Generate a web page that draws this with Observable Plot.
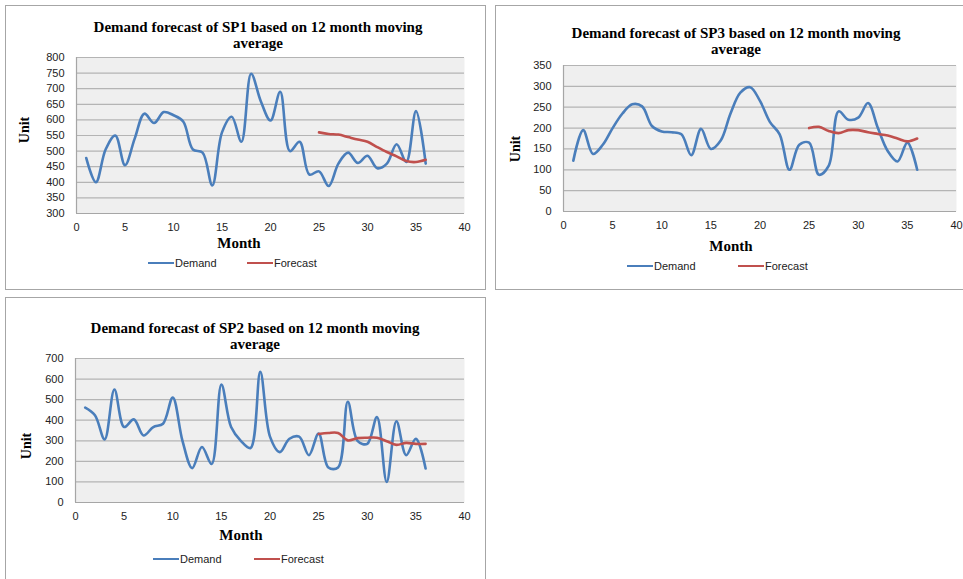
<!DOCTYPE html>
<html>
<head>
<meta charset="utf-8">
<script src="https://cdn.jsdelivr.net/npm/d3@7"></script>
<script src="https://cdn.jsdelivr.net/npm/@observablehq/plot@0.6"></script>
<style>
  html, body { margin: 0; padding: 0; background: #fff; }
  #page { position: relative; width: 963px; height: 579px; overflow: hidden; }
  .panel { position: absolute; border: 1.5px solid #a6a6a6; box-sizing: border-box; background: #fff; }
  .txt { position: absolute; transform: translate(-50%, -50%); white-space: nowrap; color: #000; }
  .title { font: bold 15px "Liberation Serif", "Times New Roman", serif; text-align: center; line-height: 16px; }
  .axis-title { font: bold 15px "Liberation Serif", "Times New Roman", serif; }
  .unit { font: bold 14px "Liberation Serif", "Times New Roman", serif; transform: translate(-50%, -50%) rotate(-90deg); }
  .chart { position: absolute; }
  .leg-line { position: absolute; height: 2.5px; }
  .leg-text { position: absolute; font: 11px "Liberation Sans", Arial, sans-serif; color: #222; transform: translateY(-50%); }
</style>
</head>
<body>
<div id="page"></div>
<script>
// Month numbers shared by all three products
const months = d3.range(1, 37);
const forecastMonths = d3.range(25, 37);
const xTicks = [0, 5, 10, 15, 20, 25, 30, 35, 40];

// SP1 monthly demand and 12-month moving-average forecast
const sp1Demand = [478, 400, 505, 550, 455, 540, 620, 590, 625, 615, 595, 505,
                   495, 390, 560, 610, 530, 748, 660, 598, 690, 500, 530, 425,
                   435, 388, 460, 495, 462, 485, 445, 460, 522, 465, 628, 460];
const sp1Forecast = [560, 555, 553, 545, 537, 530, 513, 497, 483, 468, 465, 472];
const sp1YTicks = [300, 350, 400, 450, 500, 550, 600, 650, 700, 750, 800];

// SP3 monthly demand and forecast
const sp3Demand = [122, 195, 138, 160, 200, 235, 257, 252, 205, 192, 190, 185,
                   135, 198, 150, 170, 235, 285, 298, 265, 215, 185, 100, 160,
                   165, 88, 110, 240, 220, 225, 260, 200, 145, 120, 165, 100];
const sp3Forecast = [200, 203, 193, 188, 195, 195, 190, 186, 182, 175, 168, 175];
const sp3YTicks = [0, 50, 100, 150, 200, 250, 300, 350];

// SP2 monthly demand and forecast
const sp2Demand = [461, 424, 307, 549, 367, 404, 326, 367, 383, 510, 300, 167,
                   270, 187, 573, 367, 300, 265, 635, 320, 245, 310, 320, 230,
                   335, 170, 170, 490, 300, 285, 415, 100, 395, 230, 310, 165];
const sp2Forecast = [333, 338, 338, 302, 313, 315, 315, 298, 280, 290, 285, 285];
const sp2YTicks = [0, 100, 200, 300, 400, 500, 600, 700];

const demandColor = "#4a7ebb";
const forecastColor = "#c0504d";

const page = document.getElementById("page");

function addText(cls, text, x, y) {
  const d = document.createElement("div");
  d.className = "txt " + cls;
  d.innerHTML = text;
  d.style.left = x + "px";
  d.style.top = y + "px";
  page.appendChild(d);
}

function addLegend(y, demandX, forecastX) {
  [[demandX, demandColor, "Demand"], [forecastX, forecastColor, "Forecast"]].forEach(([x, color, label]) => {
    const l = document.createElement("div");
    l.className = "leg-line";
    l.style.left = x + "px";
    l.style.top = (y - 1.25) + "px";
    l.style.width = "26px";
    l.style.background = color;
    page.appendChild(l);
    const t = document.createElement("div");
    t.className = "leg-text";
    t.textContent = label;
    t.style.left = (x + 27) + "px";
    t.style.top = y + "px";
    page.appendChild(t);
  });
}

function drawPanel(cfg) {
  const box = document.createElement("div");
  box.className = "panel";
  Object.assign(box.style, {
    left: cfg.box[0] + "px", top: cfg.box[1] + "px",
    width: cfg.box[2] + "px", height: cfg.box[3] + "px"
  });
  page.appendChild(box);

  const mL = 50, mR = 10, mT = 10, mB = 24;
  const [pl, pt, pr, pb] = cfg.plot;
  const yDomain = [cfg.yTicks[0], cfg.yTicks[cfg.yTicks.length - 1]];
  const demand = months.map((m, i) => ({month: m, value: cfg.demand[i]}));
  const forecast = forecastMonths.map((m, i) => ({month: m, value: cfg.forecast[i]}));

  const svg = Plot.plot({
    width: pr - pl + mL + mR,
    height: pb - pt + mT + mB,
    marginLeft: mL, marginRight: mR, marginTop: mT, marginBottom: mB,
    style: {fontFamily: "'Liberation Sans', Arial, sans-serif", fontSize: "11px", color: "#222", background: "transparent", overflow: "visible"},
    x: {domain: [0, 40], ticks: xTicks, tickSize: 0, tickPadding: 10, label: null},
    y: {domain: yDomain, ticks: cfg.yTicks, tickSize: 0, tickPadding: 12, label: null},
    marks: [
      Plot.frame({fill: "#efefef", stroke: null}),
      Plot.gridY(cfg.yTicks, {stroke: "#b4b4b4", strokeOpacity: 1, strokeWidth: 1.2}),
      Plot.ruleX([0], {stroke: "#a6a6a6", strokeWidth: 1.2}),
      Plot.ruleY([yDomain[0]], {stroke: "#a6a6a6", strokeWidth: 1.2}),
      Plot.line(demand, {x: "month", y: "value", curve: "catmull-rom", stroke: demandColor, strokeWidth: 2.6}),
      Plot.line(forecast, {x: "month", y: "value", curve: "catmull-rom", stroke: forecastColor, strokeWidth: 2.6})
    ]
  });
  svg.classList.add("chart");
  svg.style.left = (pl - mL) + "px";
  svg.style.top = (pt - mT) + "px";
  page.appendChild(svg);

  addText("title", cfg.title + "<br>average", cfg.titleX, cfg.titleY);
  addText("axis-title", "Month", cfg.monthX, cfg.monthY);
  addText("unit", "Unit", cfg.unitX, cfg.unitY);
  addLegend(cfg.legendY, cfg.legendX[0], cfg.legendX[1]);
}

drawPanel({
  box: [5, 5, 481, 285],
  plot: [76, 57, 464, 213],
  yTicks: sp1YTicks, demand: sp1Demand, forecast: sp1Forecast,
  title: "Demand forecast of SP1 based on 12 month moving",
  titleX: 258, titleY: 35,
  monthX: 239, monthY: 243,
  unitX: 25, unitY: 130,
  legendY: 263, legendX: [148, 247]
});

drawPanel({
  box: [495, 5, 470, 285],
  plot: [563, 65, 956, 211],
  yTicks: sp3YTicks, demand: sp3Demand, forecast: sp3Forecast,
  title: "Demand forecast of SP3 based on 12 month moving",
  titleX: 736, titleY: 41,
  monthX: 731, monthY: 246,
  unitX: 516, unitY: 149,
  legendY: 266, legendX: [627, 738]
});

drawPanel({
  box: [5, 297, 481, 300],
  plot: [75, 358, 464, 502],
  yTicks: sp2YTicks, demand: sp2Demand, forecast: sp2Forecast,
  title: "Demand forecast of SP2 based on 12 month moving",
  titleX: 255, titleY: 336,
  monthX: 241, monthY: 535,
  unitX: 27, unitY: 446,
  legendY: 559, legendX: [153, 254]
});
</script>
</body>
</html>
